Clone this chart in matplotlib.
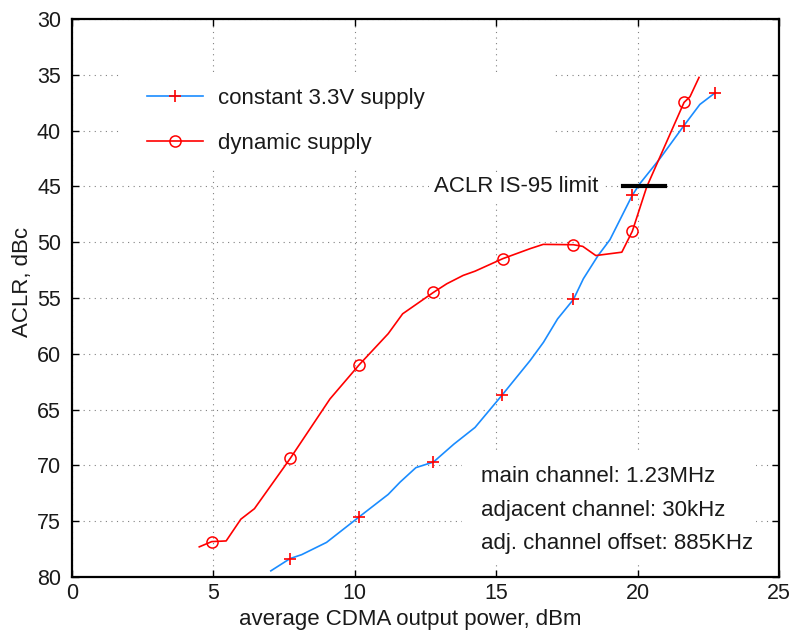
import matplotlib
matplotlib.use("Agg")
import matplotlib.pyplot as plt
from matplotlib.patches import Rectangle

plt.rcParams['font.family'] = ['Liberation Sans', 'DejaVu Sans']

# constant 3.3V supply: output power (dBm) vs ACLR (dBc)
const_power = [7.03, 7.71, 8.12, 9.0, 10.16, 11.18, 11.6, 12.16, 12.78, 13.5,
               14.25, 15.22, 16.2, 16.67, 17.17, 17.73, 18.08, 18.6, 19.02,
               19.81, 20.08, 20.79, 21.63, 22.2, 22.75]
const_aclr = [79.45, 78.35, 78.0, 76.9, 74.6, 72.6, 71.5, 70.2, 69.7, 68.1,
              66.6, 63.66, 60.6, 58.97, 56.87, 55.13, 53.28, 51.2, 49.78,
              45.8, 44.75, 42.5, 39.58, 37.66, 36.6]
const_marked = [1, 4, 8, 11, 15, 19, 22, 24]

# dynamic supply
dyn_power = [4.5, 4.94, 5.45, 5.97, 6.45, 7.72, 9.12, 10.16, 11.18, 11.69,
             12.78, 13.25, 13.83, 14.25, 15.23, 16.2, 16.66, 17.73, 18.06,
             18.52, 19.44, 19.81, 20.32, 21.64, 21.85, 22.17]
dyn_aclr = [77.3, 76.83, 76.77, 74.82, 73.88, 69.36, 64.05, 60.97, 58.2, 56.42,
            54.5, 53.73, 52.98, 52.6, 51.48, 50.58, 50.2, 50.23, 50.38,
            51.2, 50.9, 49.03, 45.05, 37.48, 36.97, 35.24]
dyn_marked = [1, 5, 7, 10, 14, 17, 21, 23]

limit_power = [19.47, 20.97]
limit_aclr = 45

notes = ["main channel: 1.23MHz",
         "adjacent channel: 30kHz",
         "adj. channel offset: 885KHz"]
notes_y = [71, 74, 77]

x_ticks = [0, 5, 10, 15, 20, 25]
y_ticks = [30, 35, 40, 45, 50, 55, 60, 65, 70, 75, 80]

fig = plt.figure(figsize=(7.94, 6.31), dpi=100)
ax = fig.add_axes([0.0907, 0.0856, 0.8905, 0.8844])

blue = '#1a8cff'
red = '#ff0000'
ink = '#1a1a1a'

ax.plot(const_power, const_aclr, color=blue, lw=1.2, marker='+',
        markevery=const_marked, mec=red, ms=8, mew=1.2,
        label='constant 3.3V supply', zorder=3)
ax.plot(dyn_power, dyn_aclr, color=red, lw=1.2, marker='o',
        markevery=dyn_marked, mfc='none', mec=red, ms=8, mew=1.1,
        label='dynamic supply', zorder=3)

ax.plot(limit_power, [limit_aclr, limit_aclr], color='black', lw=3, zorder=4)
ax.text(18.6, limit_aclr, 'ACLR IS-95 limit', ha='right', va='center',
        fontsize=16, color=ink, zorder=2,
        bbox=dict(fc='white', ec='none', pad=3))

# white panels behind legend and notes
ax.add_patch(Rectangle((0.0707, 0.729), 0.612, 0.176, transform=ax.transAxes,
                       fc='white', ec='none', zorder=1))
ax.add_patch(Rectangle((13.8, 68.7), 10.4, 10.05, fc='white', ec='none', zorder=1))
for txt, yv in zip(notes, notes_y):
    ax.text(14.46, yv, txt, ha='left', va='center', fontsize=16,
            color=ink, zorder=2)

ax.set_xlim(0, 25)
ax.set_ylim(80, 30)
ax.set_xticks(x_ticks)
ax.set_yticks(y_ticks)
ax.set_axisbelow(True)
ax.grid(True, color='#808080', linestyle=(0, (1, 4)), lw=0.8)
ax.tick_params(direction='in', top=True, right=True, length=5, width=1,
               labelsize=15.5, colors='black', labelcolor=ink)
ax.tick_params(axis='y', pad=8)
ax.tick_params(axis='x', pad=4)
for s in ax.spines.values():
    s.set_linewidth(1.6)

ax.set_xlabel('average CDMA output power, dBm', fontsize=16, color=ink)
ax.set_ylabel('ACLR, dBc', fontsize=16, color=ink)
ax.xaxis.set_label_coords(0.478, -0.058)
ax.yaxis.set_label_coords(-0.055, 0.529)

leg = ax.legend(loc='upper left', bbox_to_anchor=(0.0707, 0.921), borderaxespad=0,
                frameon=False, fontsize=16, numpoints=1, handlelength=2.52,
                handletextpad=0.68, labelspacing=1.07, borderpad=1.13)
for t in leg.get_texts():
    t.set_color(ink)

fig.savefig('out.png', dpi=100)
